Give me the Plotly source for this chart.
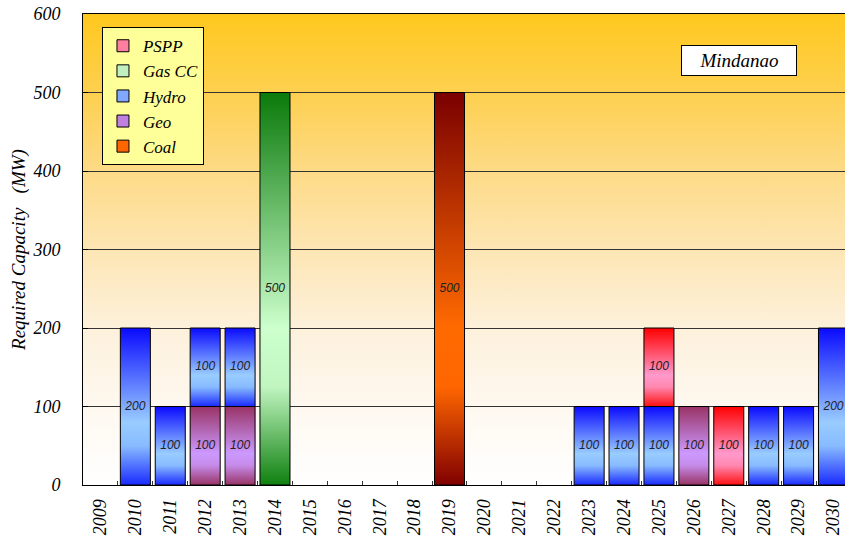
import base64
import plotly.graph_objects as go

years = list(range(2009, 2031))
# values per year (MW), 0 = none
coal  = [0, 0, 0, 0, 0, 0, 0, 0, 0, 0, 500, 0, 0, 0, 0, 0, 0, 0, 0, 0, 0, 0]
geo   = [0, 0, 0, 100, 100, 0, 0, 0, 0, 0, 0, 0, 0, 0, 0, 0, 0, 100, 0, 0, 0, 0]
hydro = [0, 200, 100, 100, 100, 0, 0, 0, 0, 0, 0, 0, 0, 0, 100, 100, 100, 0, 0, 100, 100, 200]
gascc = [0, 0, 0, 0, 0, 500, 0, 0, 0, 0, 0, 0, 0, 0, 0, 0, 0, 0, 0, 0, 0, 0]
pspp  = [0, 0, 0, 0, 0, 0, 0, 0, 0, 0, 0, 0, 0, 0, 0, 0, 100, 0, 100, 0, 0, 0]

y_ticks = [0, 100, 200, 300, 400, 500, 600]
region_label = "Mindanao"

# stacking order bottom -> top
series = [
    ("Coal", coal, ["#7a0000", "#ff6a00", "#ff6600", "#800000"], "#ff6600"),
    ("Geo", geo, ["#993366", "#cc99ff", "#c58be8", "#993366"], "#c080e0"),
    ("Hydro", hydro, ["#0a0aff", "#99ccff", "#88bbff", "#1a2aff"], "#80a8ff"),
    ("Gas CC", gascc, ["#0a7a0a", "#ccffcc", "#c0f5c0", "#0f800f"], "#c0f0c0"),
    ("PSPP", pspp, ["#ff0000", "#ff99cc", "#ff88b0", "#ff1010"], "#ff7fa0"),
]

BAR_W = 0.86
fig = go.Figure()

cum = [0] * len(years)
lab_x, lab_y, lab_t = [], [], []
for name, vals, cols, _ in series:
    for i, (yr, v) in enumerate(zip(years, vals)):
        if v <= 0:
            continue
        base = cum[i]
        top = base + v
        x0, x1 = yr - BAR_W / 2, yr + BAR_W / 2
        fig.add_trace(go.Scatter(
            x=[x0, x1, x1, x0, x0], y=[base, base, top, top, base],
            mode="lines", fill="toself",
            line=dict(color="#000000", width=1),
            fillgradient=dict(type="vertical", start=top, stop=base,
                              colorscale=[[0, cols[0]], [0.6, cols[1]], [0.75, cols[2]], [1, cols[3]]]),
            showlegend=False, hoverinfo="skip"))
        lab_x.append(yr)
        lab_y.append(base + v / 2)
        lab_t.append(str(v))
        cum[i] = top

sans = "Liberation Sans, Arial, sans-serif"
serif = "Liberation Serif, Times New Roman, serif"

fig.add_trace(go.Scatter(
    x=lab_x, y=lab_y, text=lab_t, mode="text",
    textfont=dict(family=sans, size=12, color="#222222", style="italic"),
    showlegend=False, hoverinfo="skip"))

# legend entries (top to bottom: PSPP, Gas CC, Hydro, Geo, Coal)
for rank, (name, vals, cols, lc) in enumerate(reversed(series)):
    fig.add_trace(go.Bar(x=[None], y=[None], name=name,
                         marker=dict(color=lc, line=dict(color="#000000", width=1)),
                         legendgroup=name, legendrank=rank + 1))

svg = ("<svg xmlns='http://www.w3.org/2000/svg' width='100' height='100' preserveAspectRatio='none'>"
       "<defs><linearGradient id='g' x1='0' y1='0' x2='0' y2='1'>"
       "<stop offset='0' stop-color='#ffc81e'/>"
       "<stop offset='0.17' stop-color='#fdd050'/>"
       "<stop offset='0.33' stop-color='#fdda85'/>"
       "<stop offset='0.5' stop-color='#fde6b4'/>"
       "<stop offset='0.67' stop-color='#fdf1dc'/>"
       "<stop offset='0.83' stop-color='#fef8ef'/>"
       "<stop offset='1' stop-color='#ffffff'/>"
       "</linearGradient></defs><rect width='100' height='100' fill='url(#g)'/></svg>")
src = "data:image/svg+xml;base64," + base64.b64encode(svg.encode()).decode()

fig.update_layout(
    width=845, height=541,
    margin=dict(l=83, r=0, t=14, b=56),
    paper_bgcolor="#ffffff", plot_bgcolor="#ffffff",
    images=[dict(source=src, xref="paper", yref="paper", x=0, y=1, sizex=1, sizey=1,
                 sizing="stretch", layer="below", xanchor="left", yanchor="top")],
    showlegend=True,
    legend=dict(x=0.0249, y=0.972, xanchor="left", yanchor="top",
                bgcolor="#ffff99", bordercolor="#000000", borderwidth=1,
                font=dict(family=serif, size=17, color="#000000", style="italic"),
                traceorder="grouped", tracegroupgap=0, itemwidth=30),
    annotations=[dict(text=region_label, xref="paper", yref="paper", x=0.861, y=0.901,
                      xanchor="center", yanchor="middle",
                      showarrow=False, bgcolor="#ffffff", bordercolor="#000000", borderwidth=1,
                      borderpad=2, width=110, height=25,
                      font=dict(family=serif, size=19, color="#000000", style="italic"))],
)
fig.update_xaxes(
    range=[2008.5, 2030.33], tickmode="array", tickvals=years, ticktext=[str(y) for y in years],
    tickangle=-90, ticks="", showgrid=False, zeroline=False,
    showline=True, linecolor="#000000", linewidth=1, mirror=True,
    tickfont=dict(family=serif, size=18, color="#000000", style="italic"),
    ticklabelstandoff=6,
    minor=dict(tickmode="array", tickvals=[y + 0.5 for y in years], ticks="inside",
               ticklen=4, tickcolor="#333333", showgrid=False),
)
fig.update_yaxes(
    range=[0, 600], tickmode="array", tickvals=y_ticks,
    showgrid=True, gridcolor="#333333", gridwidth=1, zeroline=False,
    showline=True, linecolor="#000000", linewidth=1,
    ticks="inside", ticklen=5, tickcolor="#000000",
    tickfont=dict(family=serif, size=18, color="#000000", style="italic"),
    ticklabelstandoff=18,
    title=dict(text="Required Capacity   (MW)", standoff=1,
               font=dict(family=serif, size=19, color="#000000", style="italic")),
)

fig.write_html("out.html")
